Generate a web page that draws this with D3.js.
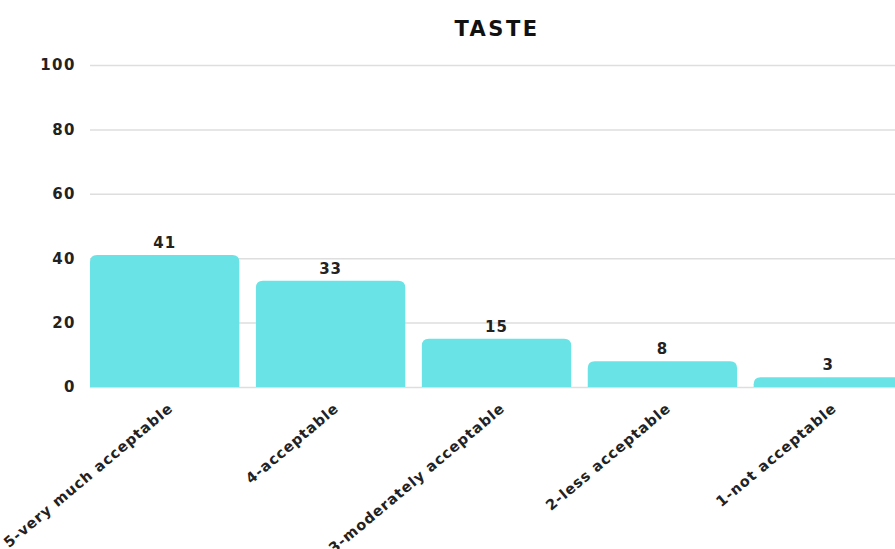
<!DOCTYPE html>
<html><head><meta charset="utf-8">
<script src="https://cdn.jsdelivr.net/npm/d3@7"></script>
<style>body{margin:0;background:#fff}</style>
</head><body>
<svg id="c" width="895" height="549"></svg>
<script>
const categories = ["5-very much acceptable","4-acceptable","3-moderately acceptable","2-less acceptable","1-not acceptable"];
const values = [41,33,15,8,3];
const yTicks = [0,20,40,60,80,100];
const title = "TASTE";

const svg = d3.select("#c");
const font = "'DejaVu Sans', sans-serif";
const x = d3.scaleBand().domain(categories).range([90,903]).paddingInner(0.1).paddingOuter(0);
const y = d3.scaleLinear().domain([0,100]).range([387,65]);

svg.append("text").attr("x",497).attr("y",36).attr("text-anchor","middle")
  .attr("font-family",font).attr("font-weight","bold").attr("font-size",21).attr("letter-spacing",2.5).attr("fill","#111").text(title);

const yAxis = svg.append("g").attr("transform","translate(90,0)")
  .call(d3.axisLeft(y).tickValues(yTicks).tickSize(-820).tickPadding(14));
yAxis.select(".domain").remove();
yAxis.selectAll(".tick line").attr("stroke","#dedede").attr("stroke-width",1.5);
yAxis.selectAll(".tick text").attr("font-family",font).attr("font-weight","bold").attr("font-size",15).attr("letter-spacing",1.5).attr("fill","#222");

const r = 7;
svg.append("g").selectAll("path").data(values).join("path")
  .attr("fill","#6ae3e6")
  .attr("d",(d,i)=>{
    const x0 = x(categories[i]), w = x.bandwidth(), y0 = y(d), y1 = y(0);
    const rr = Math.min(r,(y1-y0));
    return `M${x0},${y1}V${y0+rr}Q${x0},${y0} ${x0+rr},${y0}H${x0+w-rr}Q${x0+w},${y0} ${x0+w},${y0+rr}V${y1}Z`;
  });

svg.append("g").selectAll("text").data(values).join("text")
  .attr("x",(d,i)=>x(categories[i])+x.bandwidth()/2)
  .attr("y",d=>y(d)-7)
  .attr("text-anchor","middle").attr("font-family",font).attr("font-weight","bold").attr("font-size",15).attr("letter-spacing",1).attr("fill","#222")
  .text(d=>d);

const xAxis = svg.append("g").attr("transform","translate(0,387)")
  .call(d3.axisBottom(x).tickSize(0).tickPadding(0));
xAxis.select(".domain").remove();
xAxis.selectAll(".tick text")
  .attr("font-family",font).attr("font-weight","bold").attr("font-size",14.5).attr("letter-spacing",0.9).attr("fill","#222")
  .attr("text-anchor","end").attr("dy","0.35em")
  .attr("transform","translate(6,19) rotate(-40)");
</script>
</body></html>
